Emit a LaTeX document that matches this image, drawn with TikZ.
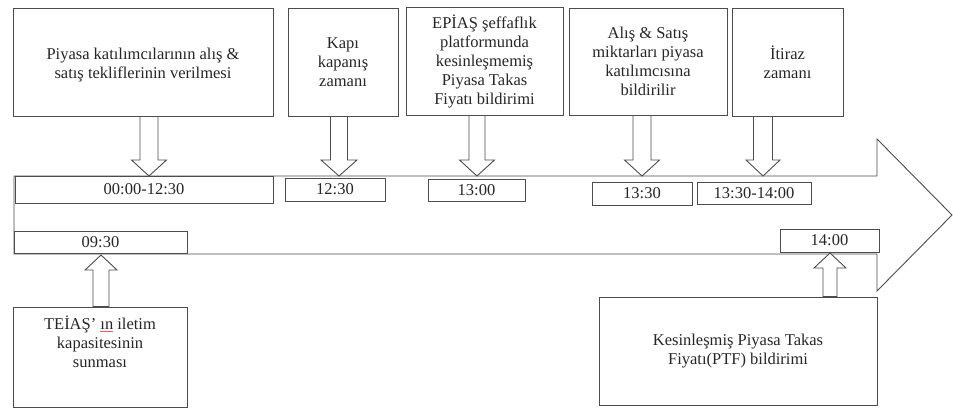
\documentclass[tikz,border=0pt]{standalone}
\usepackage{fontspec}
\setmainfont{Liberation Serif}
\usetikzlibrary{calc}
\newcommand\diagfont{\fontsize{16.5}{19}\selectfont}
\newcommand\redul[1]{\setbox0\hbox{#1}\rlap{\color{red!65}\rule[-2.5pt]{\wd0}{0.8pt}}\box0\relax}
% block arrow: from, to, shaft half width, head half width, signed head length
\newcommand\blockarr[5]{%
  \draw[line, fill=white] ($(#1)+(-#3,0)$) -- ($(#2)+(-#3,#5)$) -- ($(#2)+(-#4,#5)$) -- (#2)
     -- ($(#2)+(#4,#5)$) -- ($(#2)+(#3,#5)$) -- ($(#1)+(#3,0)$) -- cycle;}
\tikzset{
  line/.style={draw=black!70, line width=0.9pt},
  bigbox/.style={line, fill=white, inner sep=2pt, align=center, font=\diagfont, text=black!85},
  timebox/.style={line, fill=white, inner sep=0pt, font=\diagfont, text=black!85},
  txt/.style={inner sep=0pt, align=center, font=\diagfont, text=black!85}
}
\begin{document}
\begin{tikzpicture}[x=1pt, y=-1pt]
\useasboundingbox (0,0) rectangle (953,408);

% big timeline arrow
\coordinate (A1) at (14,176);
\coordinate (A2) at (877,176);
\coordinate (A3) at (877,139);
\coordinate (A4) at (952,215);
\coordinate (A5) at (877,291);
\coordinate (A6) at (877,254);
\coordinate (A7) at (14,254);
\draw[line, fill=white] (A1) -- (A2) -- (A3) -- (A4) -- (A5) -- (A6) -- (A7) -- cycle;

% time boxes
\node[timebox, minimum width=258, minimum height=27] (T1) at (144,189.5) {00:00-12:30};
\node[timebox, minimum width=100, minimum height=23] (T2) at (335,189.5) {12:30};
\node[timebox, minimum width=97, minimum height=22] (T3) at (476.5,190) {13:00};
\node[timebox, minimum width=100, minimum height=23] (T4) at (642,193.5) {13:30};
\node[timebox, minimum width=114, minimum height=22] (T5) at (754,193) {13:30-14:00};
\node[timebox, minimum width=173, minimum height=22] (T6) at (100.5,242) {09:30};
\node[timebox, minimum width=99, minimum height=23] (T7) at (829.5,240.5) {14:00};

% top boxes
\node[line, fill=white, minimum width=260, minimum height=108, inner sep=0pt] (P1) at (143,62) {};
\node[txt] (P1t) at ($(P1.center)+(0,3)$)
  {Piyasa katılımcılarının alış \&\\satış tekliflerinin verilmesi};
\node[bigbox, minimum width=110, minimum height=108] (P2) at (343,62)
  {Kapı\\kapanış\\zamanı};
\node[bigbox, minimum width=157, minimum height=108] (P3) at (484.5,61)
  {EPİAŞ şeffaflık\\platformunda\\kesinleşmemiş\\Piyasa Takas\\Fiyatı bildirimi};
\node[bigbox, minimum width=158, minimum height=107] (P4) at (648,61.5)
  {Alış \& Satış\\miktarları piyasa\\katılımcısına\\bildirilir};
\node[bigbox, minimum width=111, minimum height=108] (P5) at (787.5,62)
  {İtiraz\\zamanı};

% bottom boxes
\node[line, fill=white, minimum width=174, minimum height=100, inner sep=0pt] (B1) at (100,357) {};
\node[txt, anchor=north] (B1t) at ($(B1.north)+(0,9)$)
  {TEİAŞ' \redul{ın} iletim\\kapasitesinin\\sunması};
\node[bigbox, minimum width=278, minimum height=108] (B2) at (738,351)
  {Kesinleşmiş Piyasa Takas\\Fiyatı(PTF) bildirimi};

% down arrows
\coordinate (d1) at (149,176);
\coordinate (d2) at (339,176);
\coordinate (d3) at (477,176);
\coordinate (d4) at (642,176);
\coordinate (d5) at (763,176);
\coordinate (s1) at (d1 |- P1.south);
\coordinate (s2) at (d2 |- P2.south);
\coordinate (s3) at (d3 |- P3.south);
\coordinate (s4) at (d4 |- P4.south);
\coordinate (s5) at (d5 |- P5.south);
\blockarr{s1}{d1}{9}{17.5}{-16}
\blockarr{s2}{d2}{8.5}{18}{-16}
\blockarr{s3}{d3}{8}{17.5}{-16}
\blockarr{s4}{d4}{9}{17.5}{-16}
\blockarr{s5}{d5}{9.5}{17}{-16}

% up arrows
\coordinate (u1) at (101,255);
\coordinate (u2) at (830,253);
\coordinate (s6) at (u1 |- B1.north);
\coordinate (s7) at (u2 |- B2.north);
\blockarr{s6}{u1}{8}{16}{15}
\blockarr{s7}{u2}{7}{16}{15}
\end{tikzpicture}
\end{document}
